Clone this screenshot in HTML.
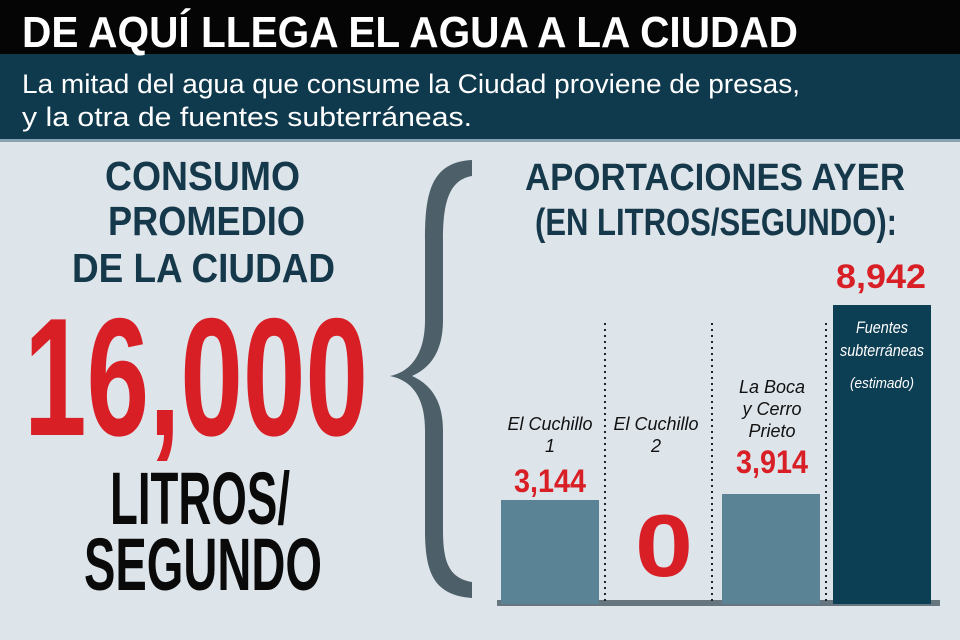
<!DOCTYPE html>
<html><head><meta charset="utf-8"><style>
html,body{margin:0;padding:0;width:960px;height:640px;overflow:hidden;background:#dde4ea}
svg text{font-family:"Liberation Sans",sans-serif;font-weight:bold}
svg text.n{font-weight:normal}
</style></head><body>
<svg width="960" height="640" viewBox="0 0 960 640" xmlns="http://www.w3.org/2000/svg">
<rect x="0" y="0" width="960" height="640" fill="#dde4ea"/>
<rect x="0" y="0" width="960" height="54" fill="#050505"/>
<rect x="0" y="54" width="960" height="87" fill="#0f394c"/>
<rect x="0" y="139" width="960" height="3" fill="#8aa3b3"/>
<text x="22" y="47" font-size="44" fill="#fff" textLength="776" lengthAdjust="spacingAndGlyphs">DE AQUÍ LLEGA EL AGUA A LA CIUDAD</text>
<text class="n" x="22" y="93" font-size="27" fill="#fff" textLength="778" lengthAdjust="spacingAndGlyphs">La mitad del agua que consume la Ciudad proviene de presas,</text>
<text class="n" x="22" y="126" font-size="27" fill="#fff" textLength="450" lengthAdjust="spacingAndGlyphs">y la otra de fuentes subterráneas.</text>

<g fill="#15384a">
<text x="105" y="190" font-size="41" textLength="195" lengthAdjust="spacingAndGlyphs">CONSUMO</text>
<text x="108" y="235" font-size="41" textLength="197" lengthAdjust="spacingAndGlyphs">PROMEDIO</text>
<text x="72" y="282" font-size="41" textLength="263" lengthAdjust="spacingAndGlyphs">DE LA CIUDAD</text>
</g>
<text x="24" y="435" font-size="168" fill="#d91f26" textLength="344" lengthAdjust="spacingAndGlyphs">16,000</text>
<text x="110" y="524" font-size="74" fill="#0a0a0a" textLength="180" lengthAdjust="spacingAndGlyphs">LITROS/</text>
<text x="84" y="590" font-size="74" fill="#0a0a0a" textLength="238" lengthAdjust="spacingAndGlyphs">SEGUNDO</text>

<path d="M472,160 C430,162 425,195 425,240 L425,320 C425,355 410,372 390,376 C410,380 425,395 425,430 L425,530 C425,575 435,595 472,598 L472,582 C448,578 443,560 443,530 L443,430 C443,400 430,384 412,376 C430,368 443,352 443,320 L443,240 C443,205 448,180 472,176 Z" fill="#4d5f69"/>

<g fill="#15384a">
<text x="525" y="190" font-size="38" textLength="380" lengthAdjust="spacingAndGlyphs">APORTACIONES AYER</text>
<text x="535" y="235" font-size="38" textLength="362" lengthAdjust="spacingAndGlyphs">(EN LITROS/SEGUNDO):</text>
</g>

<rect x="497" y="600" width="443" height="6" fill="#4a5a63" opacity="0.8"/>
<rect x="501" y="500" width="98" height="104" fill="#5a8496"/>
<rect x="722" y="494" width="98" height="110" fill="#5a8496"/>
<rect x="833" y="305" width="98" height="299" fill="#0c3e54"/>
<g stroke="#222" stroke-width="2" stroke-dasharray="2,4">
<line x1="605" y1="323" x2="605" y2="602"/>
<line x1="712" y1="323" x2="712" y2="602"/>
<line x1="826" y1="323" x2="826" y2="602"/>
</g>
<g font-size="18" fill="#111" text-anchor="middle" font-style="italic">
<text class="n" x="550" y="430">El Cuchillo</text>
<text class="n" x="550" y="452">1</text>
<text class="n" x="656" y="430">El Cuchillo</text>
<text class="n" x="656" y="452">2</text>
<text class="n" x="772" y="393">La Boca</text>
<text class="n" x="772" y="415">y Cerro</text>
<text class="n" x="772" y="437">Prieto</text>
</g>
<g font-size="17" fill="#fff" text-anchor="middle" font-style="italic">
<text class="n" x="882" y="333" textLength="52" lengthAdjust="spacingAndGlyphs">Fuentes</text>
<text class="n" x="882" y="356" textLength="84" lengthAdjust="spacingAndGlyphs">subterráneas</text>
<text class="n" x="882" y="388" font-size="15" textLength="64" lengthAdjust="spacingAndGlyphs">(estimado)</text>
</g>
<g fill="#d91f26" text-anchor="middle">
<text x="550" y="492" font-size="32" textLength="72" lengthAdjust="spacingAndGlyphs">3,144</text>
<text x="772" y="473" font-size="32" textLength="72" lengthAdjust="spacingAndGlyphs">3,914</text>
<text x="881" y="288" font-size="34" textLength="90" lengthAdjust="spacingAndGlyphs">8,942</text>
<text x="664" y="576" font-size="88" textLength="58" lengthAdjust="spacingAndGlyphs">0</text>
</g>
</svg>
</body></html>
